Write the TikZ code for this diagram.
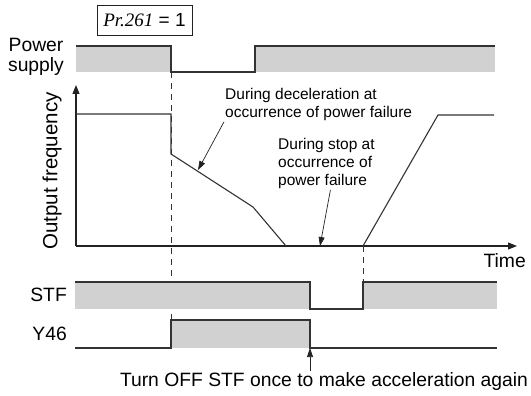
\documentclass[tikz,border=0pt]{standalone}
\usepackage{fontspec}
\setmainfont{Liberation Sans}
\newfontfamily\parfont{Liberation Serif}
\usepackage{tikz}
\usetikzlibrary{arrows.meta,calc,positioning}
\definecolor{WaveLine}{HTML}{333333}
\definecolor{WaveFill}{HTML}{D1D1D1}
\definecolor{NoteLine}{HTML}{222222}
\tikzset{
  every node/.style={inner sep=1pt},
  sig/.style={line width=1.1pt,color=WaveLine},
  band/.style={fill=WaveFill},
  axis/.style={line width=1.1pt,color=NoteLine,-{Triangle[length=9pt,width=7pt]}},
  note/.style={line width=0.7pt,color=NoteLine,-{Triangle[length=9pt,width=6pt]}},
  guide/.style={line width=0.7pt,color=WaveLine,dash pattern=on 6pt off 5pt},
  lab/.style={font=\fontsize{19.3}{20.5}\selectfont},
  small/.style={font=\fontsize{15.5}{18}\selectfont,align=left}
}

\begin{document}
\begin{tikzpicture}[x=1pt,y=-1pt]
  \useasboundingbox (0,0) rectangle (531,396);
  % --- parameter box ---
  \node[draw=NoteLine,line width=0.7pt,minimum width=95pt,minimum height=30pt,
        font=\fontsize{19}{20}\selectfont] (par) at (144.5,20)
    {{\parfont\itshape Pr.261} = 1};
  % --- power supply ---
  \fill[band] (76,46) rectangle (171,72);
  \fill[band] (255,46) rectangle (495,72);
  \draw[sig] (76,46) -- (171,46) -- (171,72) -- (255,72) -- (255,46) -- (495,46);
  \node[lab,align=center] (psup) at (36,57) {Power\\supply};
  % --- output frequency axes ---
  \coordinate (orig) at (76,246);
  \draw[axis] (orig) -- (76,85);
  \draw[axis] (orig) -- (517,246);
  \node[lab,font=\fontsize{20.5}{21}\selectfont,rotate=90] (fout) at (52,171) {Output frequency};
  \node[lab,anchor=north east] (time) at (527,252) {Time};
  % --- frequency curve ---
  \draw[sig] (76,114) -- (171,114) -- (171,154) -- (253,207) -- (286,246);
  \draw[sig] (363,246) -- (438,115) -- (494,115);
  % --- dashed guides ---
  \draw[guide] (171,72) -- (171,320);
  \draw[guide] (363,246) -- (363,282);
  % --- STF ---
  \fill[band] (75,282) rectangle (310,309);
  \fill[band] (363,282) rectangle (497,309);
  \draw[sig] (75,282) -- (310,282) -- (310,309) -- (363,309) -- (363,282) -- (497,282);
  \node[lab,anchor=east] (stf) at (68,295) {STF};
  % --- Y46 ---
  \coordinate (yfall) at (310,348);
  \fill[band] (171,320) rectangle (yfall);
  \draw[sig] (75,348) -- (171,348) -- (171,320) -- (310,320) -- (yfall) -- (497,348);
  \node[lab,anchor=east] (y46) at (68,334) {Y46};
  % --- notes ---
  \node[small,anchor=north west] (decel) at (224,87)
    {During deceleration at\\occurrence of power failure};
  \coordinate (decelTip) at (198,170);
  \draw[note] (decel.south west) -- (decelTip);
  \node[small,anchor=north west] (stop) at (277,137)
    {During stop at\\occurrence of\\power failure};
  \coordinate (stopTip) at (320,246);
  \draw[note] ([xshift=4pt]stop.south) -- (stopTip);
  \node[lab,anchor=north] (turn) at (324,371)
    {Turn OFF STF once to make acceleration again};
  \draw[note] (turn.north -| yfall) -- (yfall);
\end{tikzpicture}
\end{document}
